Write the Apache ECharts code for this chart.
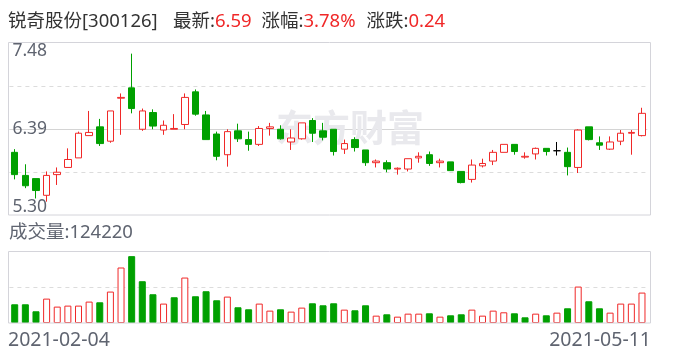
<!DOCTYPE html>
<html><head><meta charset="utf-8">
<script src="https://cdn.jsdelivr.net/npm/echarts@6/dist/echarts.min.js"></script>
<style>html,body{margin:0;padding:0;background:#fff}#c{width:688px;height:360px}</style>
</head><body><div id="c"></div>
<script>
const stockName = '锐奇股份';
const stockCode = '300126';
const latestPrice = '6.59';
const changePct = '3.78%';
const changeAmt = '0.24';
const watermark = '东方财富';

const dates = [
 '2021-02-04','2021-02-05','2021-02-08','2021-02-09','2021-02-10','2021-02-18','2021-02-19','2021-02-22','2021-02-23','2021-02-24','2021-02-25','2021-02-26',
 '2021-03-01','2021-03-02','2021-03-03','2021-03-04','2021-03-05','2021-03-08','2021-03-09','2021-03-10','2021-03-11','2021-03-12','2021-03-15','2021-03-16',
 '2021-03-17','2021-03-18','2021-03-19','2021-03-22','2021-03-23','2021-03-24','2021-03-25','2021-03-26','2021-03-29','2021-03-30','2021-03-31',
 '2021-04-01','2021-04-02','2021-04-06','2021-04-07','2021-04-08','2021-04-09','2021-04-12','2021-04-13','2021-04-14','2021-04-15','2021-04-16',
 '2021-04-19','2021-04-20','2021-04-21','2021-04-22','2021-04-23','2021-04-26','2021-04-27','2021-04-28','2021-04-29','2021-04-30',
 '2021-05-06','2021-05-07','2021-05-10','2021-05-11'
];
const opens = [6.10,5.81,5.77,5.56,5.82,5.91,6.03,6.31,6.42,6.24, 6.78,6.91,6.39,6.60,6.38,6.39,6.45,6.86,6.57,6.33,
 6.07,6.37,6.26,6.20,6.40,6.39,6.23,6.27,6.50,6.37, 6.39,6.14,6.26,6.13,5.97,5.97,5.89,5.89,6.03,6.07,
 5.97,5.98,5.86,5.76,5.93,5.99,6.10,6.20,6.04,6.08, 6.15,6.12,6.10,5.91,6.42,6.22,6.14,6.24,6.34,6.31];
const closes = [5.82,5.68,5.62,5.81,5.85,6.01,6.34,6.35,6.21,6.62, 6.79,6.65,6.62,6.43,6.44,6.40,6.79,6.58,6.26,6.05,
 6.36,6.27,6.20,6.40,6.42,6.27,6.28,6.47,6.34,6.29, 6.11,6.21,6.16,5.97,5.99,5.89,5.90,6.02,6.05,5.96,
 5.99,5.87,5.72,5.94,5.96,6.10,6.20,6.11,6.05,6.15, 6.11,6.12,5.92,6.38,6.26,6.19,6.23,6.34,6.35,6.59];
const lows = [5.76,5.65,5.52,5.48,5.69,5.91,6.03,6.31,6.18,6.22, 6.32,6.59,6.37,6.39,6.32,6.39,6.39,6.56,6.26,6.00,
 5.92,6.23,6.12,6.18,6.31,6.26,6.13,6.26,6.23,6.25, 6.06,6.08,6.11,5.93,5.91,5.85,5.82,5.86,5.97,5.93,
 5.91,5.87,5.71,5.72,5.91,5.94,6.10,6.07,6.02,6.01, 6.06,6.06,5.81,5.84,6.25,6.13,6.13,6.19,6.07,6.30];
const highs = [6.14,5.95,5.77,5.86,5.91,6.15,6.36,6.62,6.52,6.62, 6.84,7.34,6.65,6.64,6.50,6.58,6.84,6.89,6.62,6.36,
 6.39,6.46,6.36,6.43,6.47,6.44,6.39,6.47,6.53,6.47, 6.39,6.26,6.29,6.13,6.01,6.00,5.91,6.02,6.10,6.11,
 6.02,5.98,5.86,6.01,6.02,6.13,6.20,6.20,6.10,6.16, 6.15,6.23,6.16,6.39,6.42,6.30,6.30,6.38,6.38,6.66];
const volumes = [76400,76400,47800,99600,66900,71000,71000,87400,84600,128300,
 226600,273000,170600,117400,79200,105100,185600,109200,129700,92800,
 107800,64200,56000,79200,50500,56000,46400,62800,80500,72300,
 80500,54600,51900,72300,30000,35500,25900,38200,38200,39600,
 25900,31400,35500,54600,30000,50500,43700,39600,23200,38200,
 31400,42300,60100,148800,88700,60100,42300,79200,79200,124220];

const priceMin = 5.30, priceMax = 7.48;
const priceLabels = [5.30, 6.39, 7.48];
const priceDashed = [5.845, 6.935];
const priceSolid = [6.39];
const volMax = 292000, volInterval = 146000;

const RED = '#f02828', GREEN = '#00a000', DOJI = '#000';
const FONT = '"Noto Sans","Noto Sans CJK SC",sans-serif';
const HF = '18.5px ' + FONT;

const candleData = dates.map((d, i) => {
  const item = { value: [opens[i], closes[i], lows[i], highs[i]] };
  if (opens[i] === closes[i]) item.itemStyle = { color: DOJI, color0: DOJI, borderColor: DOJI, borderColor0: DOJI, borderColorDoji: DOJI };
  return item;
});
const volData = volumes.map((v, i) => {
  const up = i === 0 ? closes[0] >= opens[0] : closes[i] >= closes[i - 1];
  return { value: v, itemStyle: up ? { color: '#fff', borderColor: RED } : { color: GREEN, borderColor: GREEN } };
});

const chart = echarts.init(document.getElementById('c'), null, { renderer: 'canvas' });
const G = { left: 9.4, right: 40.7 };
chart.setOption({
  animation: false,
  backgroundColor: '#fff',
  grid: [
    { left: G.left, right: G.right, top: 42.5, height: 173.5 },
    { left: G.left, right: G.right, top: 251.5, height: 71.5 }
  ],
  xAxis: [
    { type: 'category', gridIndex: 0, data: dates, boundaryGap: true, axisLine: { show: false }, axisTick: { show: false }, axisLabel: { show: false }, splitLine: { show: false } },
    { type: 'category', gridIndex: 1, data: dates, boundaryGap: true, axisLine: { show: false }, axisTick: { show: false }, axisLabel: { show: false }, splitLine: { show: false } }
  ],
  yAxis: [
    { type: 'value', gridIndex: 0, min: priceMin, max: priceMax, scale: true,
      axisLine: { show: false },
      axisTick: { show: false, customValues: priceDashed },
      splitLine: { show: true, lineStyle: { color: '#dcdcdc', type: [4, 4], width: 1 } },
      axisLabel: { inside: true, margin: 3, customValues: priceLabels, color: '#5f6470', fontSize: 17.5, fontFamily: FONT,
        verticalAlignMinLabel: 'bottom', verticalAlignMaxLabel: 'top', formatter: v => v.toFixed(2) } },
    { type: 'value', gridIndex: 0, min: priceMin, max: priceMax, scale: true,
      axisLine: { show: false },
      axisTick: { show: false, customValues: priceSolid },
      splitLine: { show: true, lineStyle: { color: '#d4d4d4', type: 'solid', width: 1 } },
      axisLabel: { show: false } },
    { type: 'value', gridIndex: 1, min: 0, max: volMax, interval: volInterval,
      axisLine: { show: false }, axisTick: { show: false }, axisLabel: { show: false },
      splitLine: { show: true, showMinLine: false, showMaxLine: false, lineStyle: { color: '#dcdcdc', type: [4, 4] } } }
  ],
  series: [
    { type: 'candlestick', xAxisIndex: 0, yAxisIndex: 0, data: candleData, barWidth: 7, z: 5,
      itemStyle: { color: '#fff', color0: GREEN, borderColor: RED, borderColor0: GREEN, borderColorDoji: DOJI, borderWidth: 1 } },
    { type: 'bar', xAxisIndex: 1, yAxisIndex: 2, data: volData, barWidth: 7, z: 5,
      itemStyle: { borderWidth: 1 } }
  ],
  graphic: [
    { type: 'text', z: 1, x: 350, y: 128, style: { text: watermark, font: 'bold 37px "Noto Sans CJK SC"', fill: '#e9e9ed', textAlign: 'center', textVerticalAlign: 'middle' } },
    { type: 'rect', z: 50, shape: { x: 8.5, y: 42.5, width: 642, height: 172.5 }, style: { fill: 'none', stroke: '#d4d4da', lineWidth: 1 } },
    { type: 'rect', z: 50, shape: { x: 8.5, y: 251.5, width: 642, height: 71.5 }, style: { fill: 'none', stroke: '#d4d4da', lineWidth: 1 } },
    { type: 'text', x: 8, y: 21.5, style: { text: stockName + '[' + stockCode + ']', font: HF, fill: '#333', textVerticalAlign: 'middle' } },
    { type: 'text', x: 173, y: 21.5, style: { text: '{k|最新:}{v|' + latestPrice + '}', font: HF, textVerticalAlign: 'middle',
        rich: { k: { fill: '#333', font: HF }, v: { fill: RED, font: HF } } } },
    { type: 'text', x: 261.5, y: 21.5, style: { text: '{k|涨幅:}{v|' + changePct + '}', font: HF, textVerticalAlign: 'middle',
        rich: { k: { fill: '#333', font: HF }, v: { fill: RED, font: HF } } } },
    { type: 'text', x: 366.5, y: 21.5, style: { text: '{k|涨跌:}{v|' + changeAmt + '}', font: HF, textVerticalAlign: 'middle',
        rich: { k: { fill: '#333', font: HF }, v: { fill: RED, font: HF } } } },
    { type: 'text', x: 9, y: 233, style: { text: '成交量:' + volumes[volumes.length - 1], font: HF, fill: '#5f6470', textVerticalAlign: 'middle' } },
    { type: 'text', x: 8, y: 340.5, style: { text: dates[0], font: '19.5px ' + FONT, fill: '#5f6470', textAlign: 'left', textVerticalAlign: 'middle' } },
    { type: 'text', x: 651, y: 340.5, style: { text: dates[dates.length - 1], font: '19.5px ' + FONT, fill: '#5f6470', textAlign: 'right', textVerticalAlign: 'middle' } }
  ]
});
</script>
</body></html>
